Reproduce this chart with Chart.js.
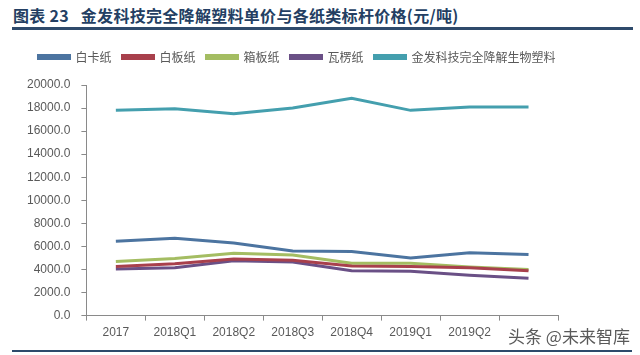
<!DOCTYPE html>
<html>
<head>
<meta charset="utf-8">
<script src="https://cdn.jsdelivr.net/npm/chart.js@4.4.1/dist/chart.umd.min.js"></script>
<style>
  html, body { margin:0; padding:0; background:#fff; width:640px; height:355px; overflow:hidden; }
  #title { position:absolute; left:13px; top:3px; font-family:"Noto Sans CJK SC", sans-serif; font-weight:bold; font-size:16px; color:#243f63; white-space:nowrap; letter-spacing:0.3px; }
  #rule1 { position:absolute; left:12px; top:27px; width:621px; height:3px; background:#2e4a6b; }
  #rule2 { position:absolute; left:12px; top:350px; width:620px; height:2px; background:#2e4a6b; }
  #wm { position:absolute; left:508px; top:323px; font-family:"Noto Sans CJK SC", sans-serif; font-size:17px; color:#5a5a5a; white-space:nowrap; text-shadow:0 0 2px #fff, 0 0 3px #fff, 1px 1px 0 #fff; }
  #c { position:absolute; left:0; top:0; }
</style>
</head>
<body>
<div id="title">图表 23&nbsp;&nbsp;&nbsp;金发科技完全降解塑料单价与各纸类标杆价格(元/吨)</div>
<div id="rule1"></div>
<canvas id="c" width="600" height="355"></canvas>
<div id="rule2"></div>
<div id="wm">头条 @未来智库</div>
<script>
const categories = ['2017','2018Q1','2018Q2','2018Q3','2018Q4','2019Q1','2019Q2','2019Q3'];
const seriesNames = ['白卡纸','白板纸','箱板纸','瓦楞纸','金发科技完全降解生物塑料'];
const baika   = [6450, 6700, 6300, 5600, 5550, 5000, 5450, 5300];
const baiban  = [4250, 4500, 4900, 4800, 4300, 4250, 4150, 3900];
const xiangban= [4700, 4950, 5400, 5250, 4550, 4550, 4220, 4000];
const waleng  = [4050, 4150, 4750, 4650, 3900, 3850, 3500, 3250];
const kingfa  = [17800, 17950, 17500, 18000, 18850, 17800, 18100, 18100];
const yTicks  = [0, 2000, 4000, 6000, 8000, 10000, 12000, 14000, 16000, 18000, 20000];

const colors = ['#4c74a0', '#a8404c', '#a4bd62', '#6a5086', '#449fae'];
const values = [baika, baiban, xiangban, waleng, kingfa];

const legendTweak = {
  id: 'legendTweak',
  beforeInit(chart) {
    const fit = chart.legend.fit;
    chart.legend.fit = function () { fit.bind(chart.legend)(); this.height += 12; };
  },
  afterLayout(chart) {
    chart.legend.left += 10;
    chart.legend.right += 10;
  }
};

new Chart(document.getElementById('c'), {
  type: 'line',
  data: {
    labels: categories,
    datasets: seriesNames.map((n, i) => ({
      label: n,
      data: values[i],
      borderColor: colors[i],
      backgroundColor: colors[i],
      borderWidth: 3,
      pointRadius: 0,
      tension: 0,
      fill: false
    }))
  },
  options: {
    responsive: false,
    animation: false,
    layout: { padding: { left: 16, right: 42, top: 40, bottom: 10 } },
    plugins: {
      tooltip: { enabled: false },
      legend: {
        position: 'top',
        labels: {
          boxWidth: 31,
          boxHeight: 3,
          padding: 11,
          color: '#595959',
          font: { family: '"Noto Sans CJK SC", sans-serif', size: 12 }
        }
      }
    },
    scales: {
      x: {
        offset: true,
        grid: { display: true, drawOnChartArea: false, drawTicks: true, tickLength: 5, color: '#8a8a8a', offset: true },
        border: { display: true, color: '#8a8a8a', width: 1 },
        ticks: {
          color: '#595959',
          padding: 5,
          maxRotation: 0,
          autoSkip: false,
          font: { family: '"Liberation Sans", Arial, sans-serif', size: 12 },
          callback: function (v, i) { return i === categories.length - 1 ? '' : categories[i]; }
        }
      },
      y: {
        min: 0,
        max: 20000,
        afterBuildTicks: function (axis) { axis.ticks = yTicks.map(v => ({ value: v })); },
        grid: { display: true, drawOnChartArea: false, drawTicks: true, tickLength: 5, color: '#8a8a8a' },
        border: { display: true, color: '#8a8a8a', width: 1 },
        ticks: {
          color: '#595959',
          padding: 11,
          font: { family: '"Liberation Sans", Arial, sans-serif', size: 12 },
          callback: function (v) { return Number(v).toFixed(1); }
        }
      }
    }
  },
  plugins: [legendTweak]
});
</script>
</body>
</html>
